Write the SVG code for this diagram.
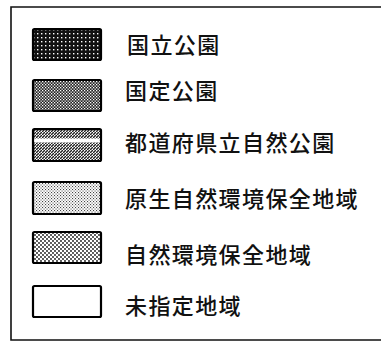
<svg xmlns="http://www.w3.org/2000/svg" width="381" height="343" viewBox="0 0 381 343">
<style>
.sw{stroke:#000;stroke-width:2.2}
.lb{font-family:"Noto Sans CJK JP","Noto Sans CJK SC",sans-serif;font-size:22px;font-weight:500;fill:#111;letter-spacing:1.4px}
.frame{fill:none;stroke:#111;stroke-width:1.6}
</style>
<defs>
<pattern id="p1" width="4" height="4" patternUnits="userSpaceOnUse">
<rect width="4" height="4" fill="#111"/>
<rect x="1" y="1" width="1.4" height="1.4" fill="#fff"/>
</pattern>
<pattern id="p2" width="3" height="3" patternUnits="userSpaceOnUse">
<rect width="3" height="3" fill="#222"/>
<rect x="0" y="0" width="1.3" height="1.3" fill="#fff"/>
<rect x="1.5" y="1.5" width="1.3" height="1.3" fill="#fff"/>
</pattern>
<pattern id="p3" width="3" height="3" patternUnits="userSpaceOnUse">
<rect width="3" height="3" fill="#fff"/>
<path d="M0 3 L3 0" stroke="#222" stroke-width="1.4"/>
</pattern>
<pattern id="p4" width="3" height="3" patternUnits="userSpaceOnUse">
<rect width="3" height="3" fill="#fff"/>
<rect x="0" y="0" width="1.1" height="1.1" fill="#444"/>
<rect x="1.5" y="1.5" width="1.1" height="1.1" fill="#555"/>
</pattern>
<pattern id="p5" width="4" height="4" patternUnits="userSpaceOnUse">
<rect width="4" height="4" fill="#fff"/>
<circle cx="1" cy="1" r="0.9" fill="#111"/>
<circle cx="3" cy="3" r="0.9" fill="#111"/>
</pattern>
</defs>
<rect width="381" height="343" fill="#fff"/>
<path class="frame" d="M381 7 L11 7 L11 340 L381 340"/>
<g id="n1">
<rect class="sw" x="33" y="29" width="68" height="31" rx="1.5" fill="url(#p1)"/>
<text class="lb" x="127" y="53">国立公園</text>
</g>
<g id="n2">
<rect class="sw" x="33" y="80" width="68" height="31" rx="1.5" fill="url(#p2)"/>
<text class="lb" x="125" y="99">国定公園</text>
</g>
<g id="n3">
<rect class="sw" x="33" y="129" width="68" height="32" rx="1.5" fill="url(#p3)"/>
<rect x="34.2" y="138.5" width="65.6" height="4" fill="#fff"/>
<text class="lb" x="125" y="151">都道府県立自然公園</text>
</g>
<g id="n4">
<rect class="sw" x="33" y="182" width="68" height="32" rx="1.5" fill="url(#p4)"/>
<text class="lb" x="125" y="207">原生自然環境保全地域</text>
</g>
<g id="n5">
<rect class="sw" x="33" y="232" width="68" height="31" rx="1.5" fill="url(#p5)"/>
<text class="lb" x="125" y="263">自然環境保全地域</text>
</g>
<g id="n6">
<rect class="sw" x="33" y="286" width="68" height="31" rx="1.5" fill="#fff"/>
<text class="lb" x="125" y="314">未指定地域</text>
</g>
<g id="connectors"/>
</svg>
